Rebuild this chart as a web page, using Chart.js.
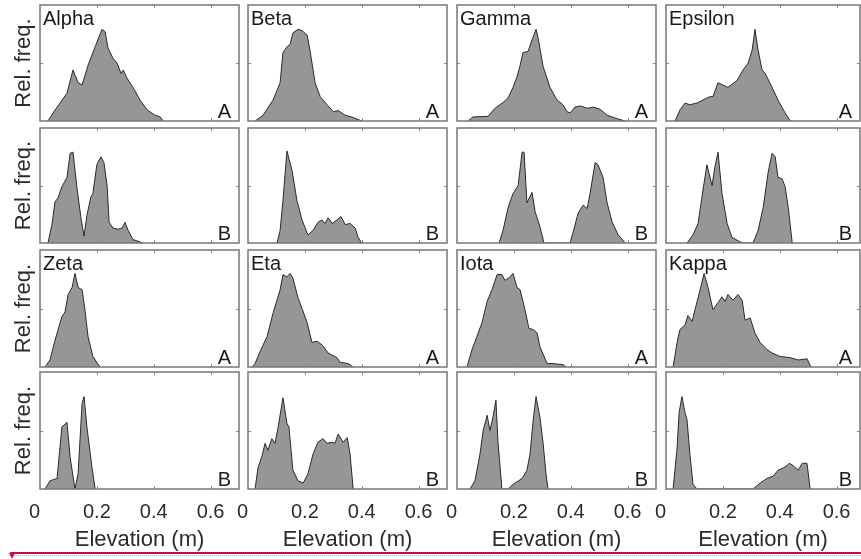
<!DOCTYPE html>
<html>
<head>
<meta charset="utf-8">
<script src="https://cdn.jsdelivr.net/npm/chart.js@4.4.0/dist/chart.umd.min.js"></script>
<style>
  body { margin: 0; background: #fff; width: 861px; height: 559px; overflow: hidden; position: relative; }
  .cell { position: absolute; }
  .redline { position: absolute; left: 10px; top: 552px; width: 851px; height: 2px; background: #c1143c; }
  .redline:after { content: ''; position: absolute; left: 0; top: 3px; width: 851px; border-bottom: 1px dotted #e8a0b0; }
  .arrow { position: absolute; left: 9px; top: 553px; width: 0; height: 0;
           border-left: 3px solid transparent; border-right: 3px solid transparent; border-top: 6px solid #c1143c; }
</style>
</head>
<body>
<div class="redline"></div>
<div class="arrow"></div>
<script>
// Rel. frequency curves (x = elevation in m)
const alphaA_x = [0.028, 0.053, 0.095, 0.116, 0.134, 0.148, 0.169, 0.194, 0.218, 0.229, 0.239, 0.257, 0.271, 0.285, 0.293, 0.306, 0.327, 0.352, 0.377, 0.405, 0.423, 0.433];
const alphaA_y = [0, 0.095, 0.24, 0.44, 0.33, 0.31, 0.48, 0.64, 0.79, 0.77, 0.63, 0.54, 0.50, 0.41, 0.44, 0.37, 0.29, 0.18, 0.095, 0.05, 0.035, 0];
const betaA_x = [0.025, 0.053, 0.088, 0.113, 0.123, 0.137, 0.148, 0.158, 0.176, 0.19, 0.208, 0.218, 0.236, 0.254, 0.278, 0.3, 0.317, 0.342, 0.37, 0.4];
const betaA_y = [0, 0.05, 0.18, 0.33, 0.59, 0.64, 0.66, 0.76, 0.79, 0.78, 0.74, 0.61, 0.33, 0.21, 0.14, 0.08, 0.09, 0.05, 0.03, 0];
const gammaA_x = [0.039, 0.056, 0.109, 0.134, 0.162, 0.18, 0.197, 0.211, 0.222, 0.232, 0.25, 0.264, 0.278, 0.285, 0.303, 0.327, 0.352, 0.373, 0.387, 0.398, 0.415, 0.433, 0.458, 0.479, 0.504, 0.528, 0.563, 0.592];
const gammaA_y = [0, 0.035, 0.04, 0.11, 0.16, 0.2, 0.29, 0.38, 0.48, 0.59, 0.6, 0.7, 0.79, 0.72, 0.47, 0.29, 0.18, 0.14, 0.08, 0.07, 0.12, 0.13, 0.11, 0.12, 0.10, 0.05, 0.02, 0];
const epsilonA_x = [0.032, 0.049, 0.067, 0.084, 0.109, 0.137, 0.155, 0.165, 0.183, 0.2, 0.218, 0.25, 0.271, 0.289, 0.303, 0.313, 0.324, 0.338, 0.349, 0.373, 0.394, 0.419, 0.437];
const epsilonA_y = [0, 0.095, 0.155, 0.14, 0.155, 0.19, 0.21, 0.21, 0.33, 0.31, 0.29, 0.35, 0.44, 0.5, 0.61, 0.79, 0.61, 0.44, 0.41, 0.29, 0.18, 0.07, 0];

const alphaB_x = [0.028, 0.042, 0.053, 0.063, 0.077, 0.095, 0.106, 0.116, 0.13, 0.144, 0.155, 0.165, 0.179, 0.186, 0.2, 0.214, 0.225, 0.236, 0.243, 0.257, 0.275, 0.289, 0.299, 0.31, 0.327, 0.363];
const alphaB_y = [0, 0.16, 0.36, 0.39, 0.49, 0.57, 0.78, 0.79, 0.48, 0.22, 0.06, 0.24, 0.4, 0.43, 0.68, 0.75, 0.7, 0.5, 0.18, 0.13, 0.12, 0.13, 0.18, 0.11, 0.03, 0];
const betaB_x = [0.102, 0.113, 0.123, 0.137, 0.155, 0.172, 0.19, 0.211, 0.229, 0.246, 0.26, 0.271, 0.282, 0.296, 0.313, 0.327, 0.342, 0.359, 0.377, 0.387, 0.4];
const betaB_y = [0, 0.11, 0.37, 0.8, 0.63, 0.37, 0.2, 0.07, 0.11, 0.18, 0.2, 0.17, 0.22, 0.17, 0.2, 0.23, 0.16, 0.17, 0.13, 0.05, 0];
const gammaB_x = [0.148, 0.162, 0.18, 0.197, 0.215, 0.229, 0.236, 0.246, 0.264, 0.275, 0.292, 0.306, 0.398, 0.408, 0.426, 0.444, 0.458, 0.468, 0.486, 0.496, 0.514, 0.528, 0.546, 0.567, 0.592];
const gammaB_y = [0, 0.11, 0.31, 0.43, 0.5, 0.79, 0.79, 0.35, 0.44, 0.27, 0.14, 0, 0, 0.09, 0.26, 0.33, 0.3, 0.43, 0.7, 0.68, 0.57, 0.35, 0.18, 0.07, 0];
const epsilonB_x = [0.074, 0.095, 0.113, 0.13, 0.144, 0.162, 0.172, 0.183, 0.197, 0.215, 0.232, 0.26, 0.271, 0.306, 0.324, 0.342, 0.359, 0.373, 0.384, 0.394, 0.408, 0.419, 0.43, 0.444];
const epsilonB_y = [0, 0.07, 0.17, 0.46, 0.68, 0.5, 0.66, 0.79, 0.43, 0.17, 0.05, 0.01, 0, 0, 0.11, 0.31, 0.61, 0.78, 0.75, 0.57, 0.56, 0.49, 0.31, 0];

const zetaA_x = [0.018, 0.035, 0.053, 0.077, 0.088, 0.099, 0.113, 0.123, 0.134, 0.148, 0.158, 0.169, 0.186, 0.211];
const zetaA_y = [0, 0.06, 0.23, 0.43, 0.47, 0.62, 0.68, 0.8, 0.68, 0.66, 0.49, 0.26, 0.09, 0];
const etaA_x = [0.014, 0.025, 0.042, 0.067, 0.088, 0.113, 0.123, 0.137, 0.148, 0.158, 0.176, 0.19, 0.208, 0.225, 0.243, 0.26, 0.282, 0.313, 0.324, 0.352, 0.37];
const etaA_y = [0, 0.03, 0.13, 0.26, 0.46, 0.66, 0.79, 0.77, 0.8, 0.76, 0.59, 0.5, 0.38, 0.21, 0.22, 0.19, 0.12, 0.08, 0.04, 0.03, 0];
const iotaA_x = [0.035, 0.053, 0.07, 0.088, 0.106, 0.123, 0.141, 0.158, 0.169, 0.187, 0.197, 0.211, 0.222, 0.239, 0.253, 0.268, 0.282, 0.292, 0.317, 0.334, 0.373, 0.384];
const iotaA_y = [0, 0.15, 0.26, 0.38, 0.56, 0.66, 0.79, 0.79, 0.74, 0.77, 0.8, 0.68, 0.66, 0.49, 0.33, 0.32, 0.29, 0.17, 0.03, 0.03, 0.02, 0];
const kappaA_x = [0.025, 0.039, 0.049, 0.067, 0.077, 0.092, 0.102, 0.12, 0.134, 0.148, 0.165, 0.183, 0.197, 0.208, 0.218, 0.236, 0.253, 0.268, 0.278, 0.296, 0.313, 0.331, 0.355, 0.373, 0.401, 0.437, 0.465, 0.496, 0.51];
const kappaA_y = [0, 0.21, 0.32, 0.36, 0.44, 0.39, 0.49, 0.66, 0.8, 0.68, 0.49, 0.55, 0.6, 0.56, 0.62, 0.57, 0.62, 0.57, 0.4, 0.42, 0.29, 0.21, 0.15, 0.12, 0.09, 0.08, 0.06, 0.07, 0];

const zetaB_x = [0.018, 0.035, 0.06, 0.077, 0.095, 0.106, 0.123, 0.134, 0.148, 0.155, 0.165, 0.183, 0.194];
const zetaB_y = [0, 0.07, 0.09, 0.53, 0.57, 0.27, 0, 0.13, 0.73, 0.79, 0.53, 0.18, 0];
const etaB_x = [0.025, 0.035, 0.049, 0.06, 0.07, 0.084, 0.095, 0.106, 0.123, 0.137, 0.144, 0.158, 0.176, 0.194, 0.211, 0.229, 0.246, 0.264, 0.278, 0.296, 0.306, 0.317, 0.335, 0.349, 0.359, 0.37];
const etaB_y = [0, 0.18, 0.28, 0.39, 0.33, 0.43, 0.39, 0.53, 0.78, 0.56, 0.53, 0.16, 0.07, 0.05, 0.13, 0.3, 0.4, 0.43, 0.39, 0.4, 0.39, 0.47, 0.4, 0.44, 0.3, 0];
const iotaB_x = [0.046, 0.063, 0.081, 0.092, 0.106, 0.116, 0.127, 0.137, 0.144, 0.158, 0.18, 0.197, 0.229, 0.246, 0.257, 0.268, 0.278, 0.292, 0.303, 0.313, 0.32];
const iotaB_y = [0, 0.07, 0.3, 0.5, 0.63, 0.5, 0.62, 0.76, 0.41, 0, 0, 0.04, 0.09, 0.16, 0.3, 0.59, 0.79, 0.61, 0.39, 0.13, 0];
const kappaB_x = [0.025, 0.039, 0.046, 0.056, 0.067, 0.074, 0.084, 0.095, 0.109, 0.306, 0.331, 0.355, 0.377, 0.394, 0.412, 0.426, 0.433, 0.447, 0.465, 0.479, 0.496, 0.507];
const kappaB_y = [0, 0.35, 0.65, 0.79, 0.65, 0.59, 0.3, 0.04, 0, 0, 0.05, 0.09, 0.11, 0.16, 0.18, 0.2, 0.22, 0.2, 0.16, 0.22, 0.22, 0];

const xTicks = [0.2, 0.4, 0.6];
const panels = [
  // [row, col, name, letter, xs, ys]
  [0, 0, 'Alpha', 'A', alphaA_x, alphaA_y], [0, 1, 'Beta', 'A', betaA_x, betaA_y],
  [0, 2, 'Gamma', 'A', gammaA_x, gammaA_y], [0, 3, 'Epsilon', 'A', epsilonA_x, epsilonA_y],
  [1, 0, '', 'B', alphaB_x, alphaB_y], [1, 1, '', 'B', betaB_x, betaB_y],
  [1, 2, '', 'B', gammaB_x, gammaB_y], [1, 3, '', 'B', epsilonB_x, epsilonB_y],
  [2, 0, 'Zeta', 'A', zetaA_x, zetaA_y], [2, 1, 'Eta', 'A', etaA_x, etaA_y],
  [2, 2, 'Iota', 'A', iotaA_x, iotaA_y], [2, 3, 'Kappa', 'A', kappaA_x, kappaA_y],
  [3, 0, '', 'B', zetaB_x, zetaB_y], [3, 1, '', 'B', etaB_x, etaB_y],
  [3, 2, '', 'B', iotaB_x, iotaB_y], [3, 3, '', 'B', kappaB_x, kappaB_y]
];

// layout of the grid
const colLeft = [40, 248, 457, 666];
const colWidth = [199, 199, 199, 194];
const rowTop = [5, 128, 250, 372];
const rowHeight = [116, 115, 117, 117];
const pxPerUnit = 199 / 0.7;
const FONT = '"Liberation Sans", Arial, sans-serif';

const panelDeco = {
  id: 'panelDeco',
  afterDatasetsDraw(chart, args, opts) {
    const { ctx, chartArea: a, scales } = chart;
    ctx.save();
    // small inward ticks
    ctx.strokeStyle = '#8a8a8a';
    ctx.lineWidth = 1;
    ctx.beginPath();
    xTicks.forEach(v => {
      const px = Math.round(scales.x.getPixelForValue(v)) + 0.5;
      ctx.moveTo(px, a.top); ctx.lineTo(px, a.top + 3);
      ctx.moveTo(px, a.bottom); ctx.lineTo(px, a.bottom - 3);
    });
    const py = Math.round(scales.y.getPixelForValue(0.5)) + 0.5;
    ctx.moveTo(a.left, py); ctx.lineTo(a.left + 3, py);
    ctx.moveTo(a.right, py); ctx.lineTo(a.right - 3, py);
    ctx.stroke();
    // frame
    ctx.strokeStyle = '#777';
    ctx.lineWidth = 1.5;
    ctx.strokeRect(a.left, a.top, a.width, a.height);
    // texts
    ctx.fillStyle = '#1a1a1a';
    ctx.font = '20px ' + FONT;
    ctx.textBaseline = 'alphabetic';
    if (opts.name) {
      ctx.textAlign = 'left';
      ctx.fillText(opts.name, a.left + 3, a.top + 20);
    }
    ctx.textAlign = 'right';
    ctx.fillText(opts.letter, a.right - 8, a.bottom - 3);
    ctx.restore();
  }
};

panels.forEach(([r, c, name, letter, xs, ys]) => {
  const padL = c === 0 ? 40 : 15;
  const padB = r === 3 ? 70 : 0;
  const bottomRow = r === 3;
  const w = padL + colWidth[c] + 1;
  const h = 1 + rowHeight[r] + (bottomRow ? padB : 1);
  const div = document.createElement('div');
  div.className = 'cell';
  div.style.left = (colLeft[c] - padL) + 'px';
  div.style.top = (rowTop[r] - 1) + 'px';
  const canvas = document.createElement('canvas');
  canvas.width = w;
  canvas.height = h;
  canvas.style.width = w + 'px';
  canvas.style.height = h + 'px';
  div.appendChild(canvas);
  document.body.appendChild(div);

  new Chart(canvas, {
    type: 'line',
    data: {
      datasets: [{
        data: xs.map((x, i) => ({ x: x, y: ys[i] })),
        borderColor: '#2a2a2a',
        borderWidth: 1,
        backgroundColor: '#969696',
        fill: 'origin',
        tension: 0,
        pointRadius: 0
      }]
    },
    options: {
      responsive: false,
      animation: false,
      events: [],
      layout: { padding: { top: 1, right: 1, left: 0, bottom: bottomRow ? 0 : 1 } },
      plugins: {
        legend: { display: false },
        tooltip: { enabled: false },
        panelDeco: { name: name, letter: letter }
      },
      scales: {
        x: {
          type: 'linear',
          min: 0,
          max: colWidth[c] / pxPerUnit,
          display: bottomRow,
          afterFit: s => { s.height = padB; },
          grid: { display: false, drawTicks: true, tickLength: 9 },
          border: { display: false },
          ticks: {
            stepSize: 0.2, includeBounds: false, padding: 2, maxRotation: 0, autoSkip: false,
            color: '#2b2b2b', font: { family: FONT, size: 20 },
            // the zero label sits a little left of its tick in the original
            callback: v => (v === 0 ? '0  ' : v.toFixed(1))
          },
          title: {
            display: true, text: 'Elevation (m)', color: '#2b2b2b',
            font: { family: FONT, size: 22 }, padding: { top: 0, bottom: 6 }
          }
        },
        y: {
          min: 0,
          max: 1,
          afterFit: s => { s.width = padL; },
          grid: { display: false },
          border: { display: false },
          ticks: { display: false },
          title: {
            display: c === 0, text: 'Rel. freq.', color: '#2b2b2b',
            font: { family: FONT, size: 22 }, padding: { top: 11, bottom: 0 }
          }
        }
      }
    },
    plugins: [panelDeco]
  });
});
</script>
</body>
</html>
